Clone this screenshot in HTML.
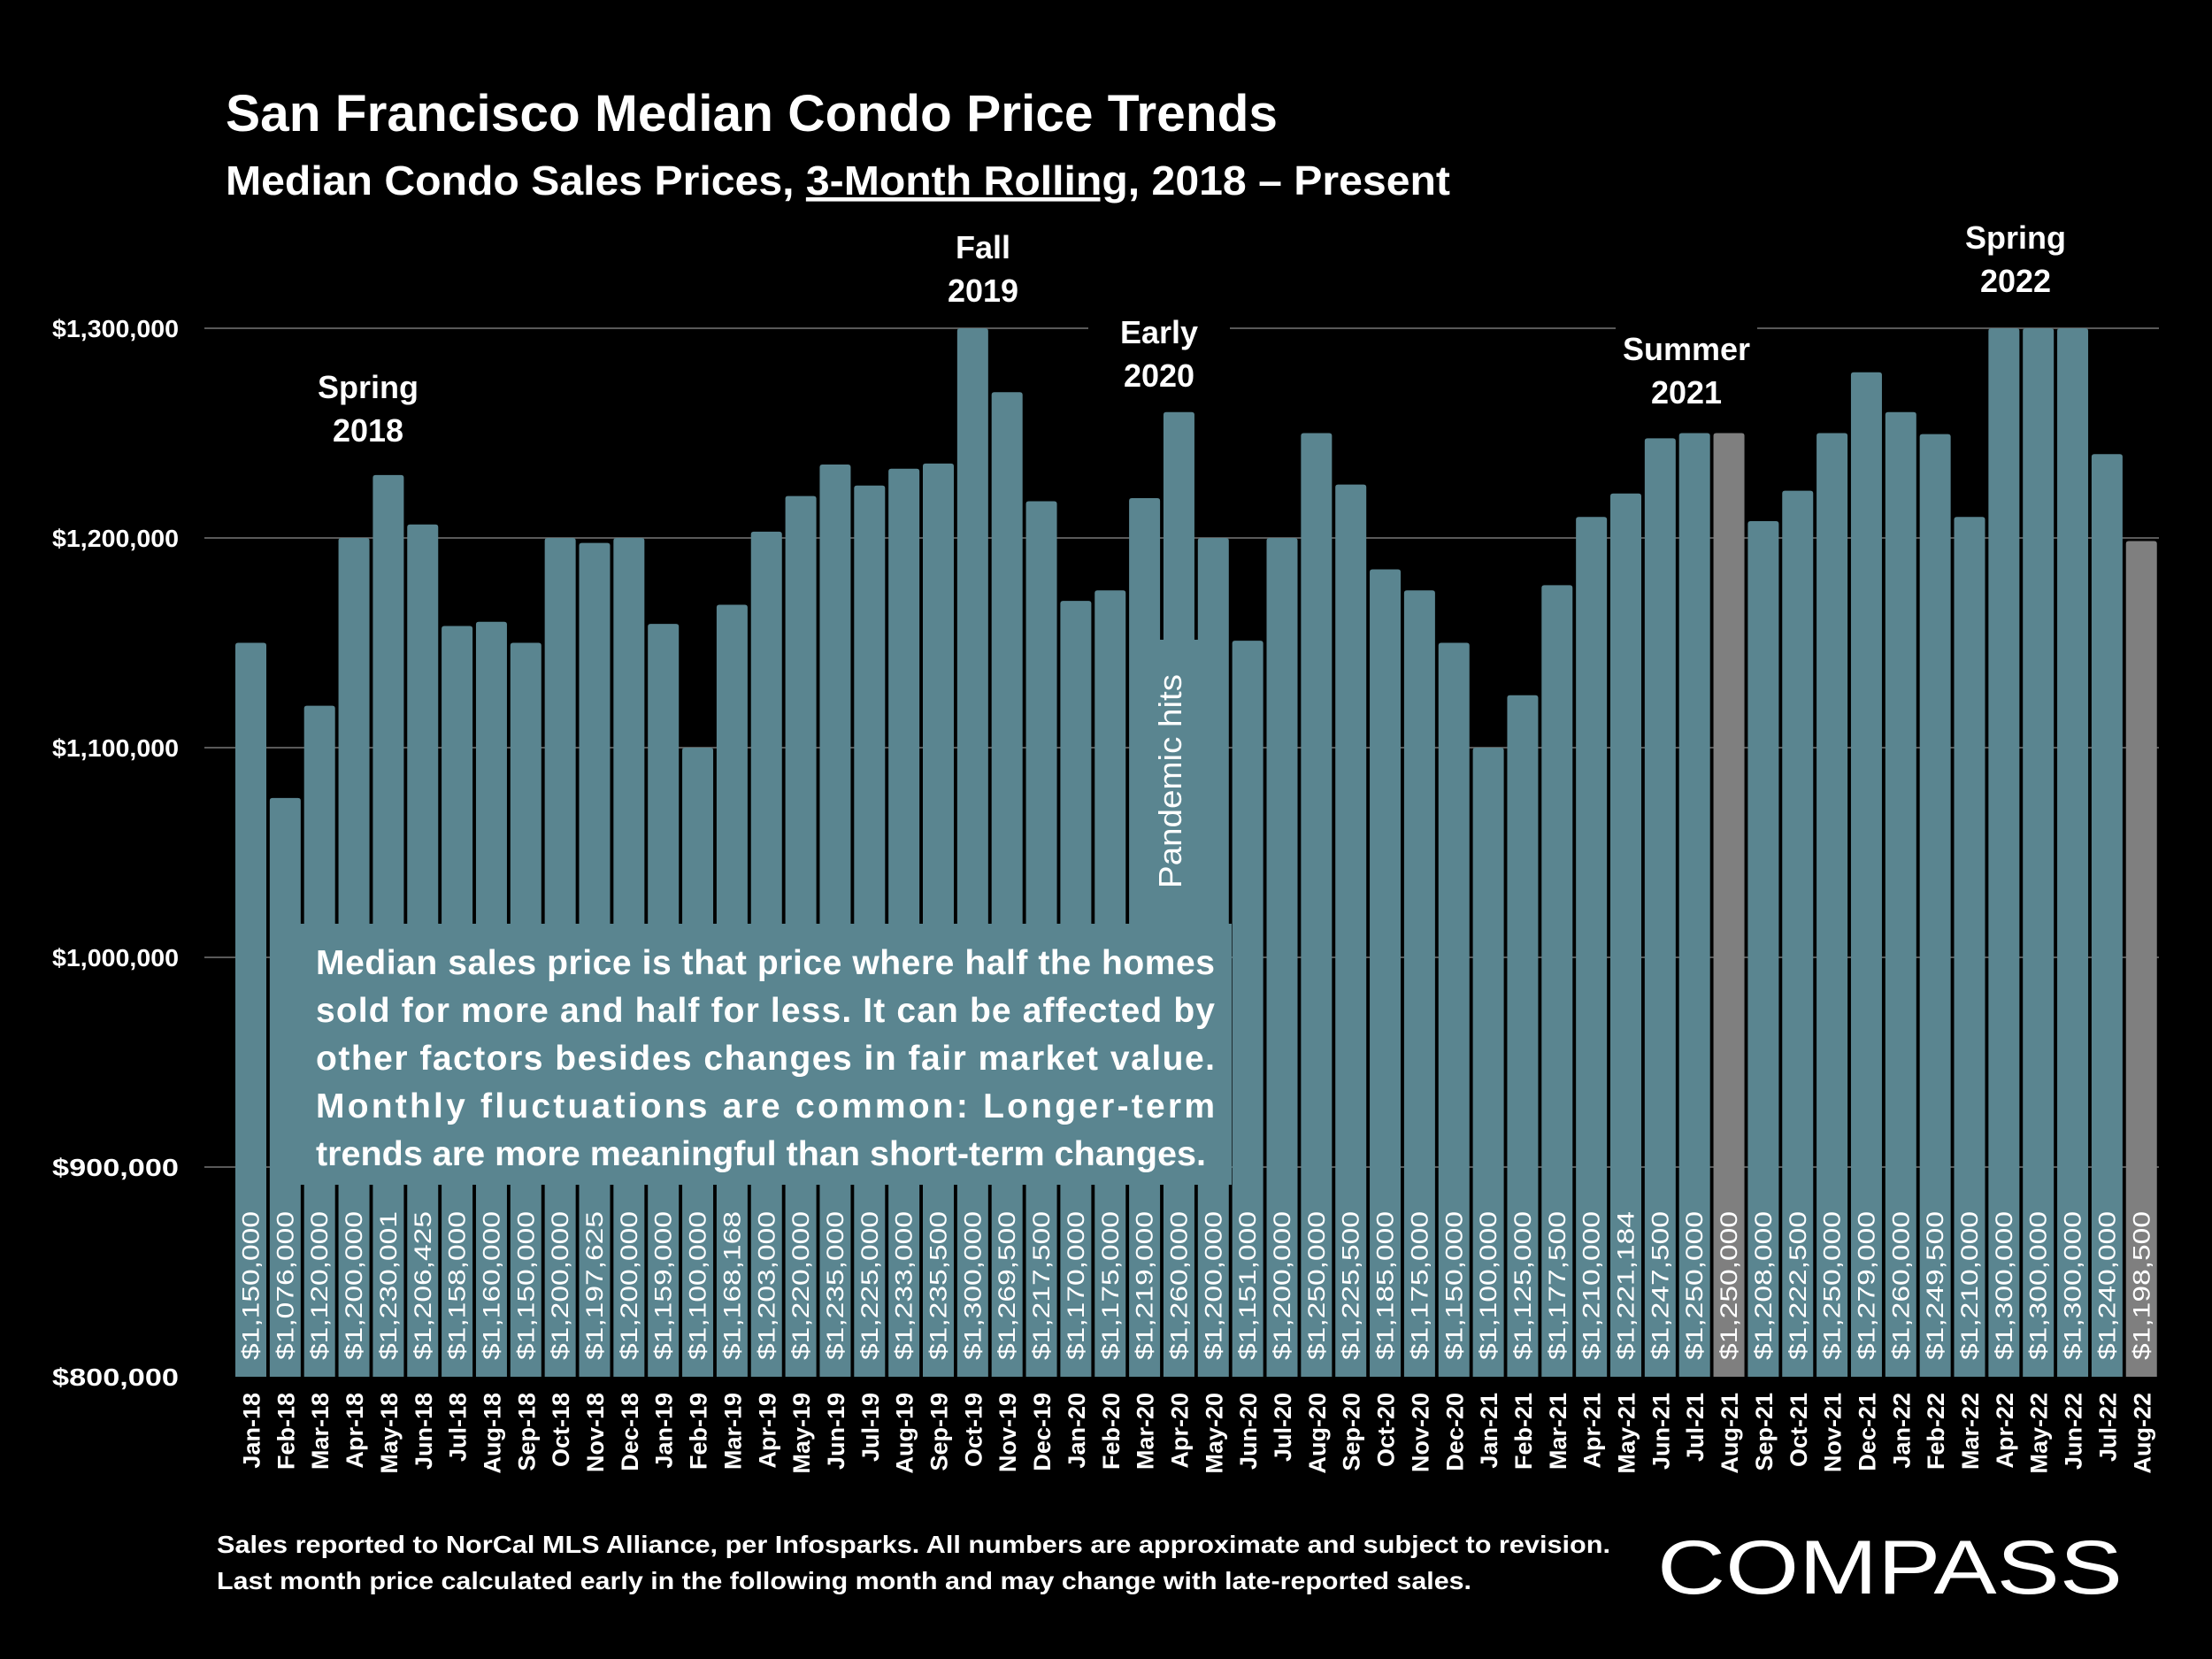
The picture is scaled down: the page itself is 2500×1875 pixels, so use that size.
<!DOCTYPE html>
<html><head><meta charset="utf-8">
<style>
html,body{margin:0;padding:0;background:#000;}
svg{display:block;font-family:"Liberation Sans",sans-serif;}
</style></head>
<body>
<svg id="chart" width="2500" height="1875" viewBox="0 0 2500 1875" xmlns="http://www.w3.org/2000/svg">
<rect width="2500" height="1875" fill="#000"/>
<text x="255" y="148" fill="#fff" font-size="58" font-weight="bold" textLength="1189" lengthAdjust="spacingAndGlyphs">San Francisco Median Condo Price Trends</text>
<text x="255" y="220" fill="#fff" font-size="46" font-weight="bold" textLength="1384" lengthAdjust="spacingAndGlyphs">Median Condo Sales Prices, <tspan text-decoration="underline">3-Month Rolling</tspan>, 2018 – Present</text>
<g id="grid"></g>
<g id="yaxis"></g>
<g id="bars"></g>
<g id="xaxis"></g>
<g id="notes"></g>
<g>
<rect x="1286" y="723" width="74" height="330" fill="#5a8590"/>
<text transform="translate(1335,1004) rotate(-90)" fill="#fff" font-size="36" textLength="242" lengthAdjust="spacingAndGlyphs">Pandemic hits</text>
<rect x="335" y="1044" width="1057" height="295" fill="#5a8590"/>
<g fill="#fff" font-size="39" font-weight="bold">
<text x="357" y="1101" textLength="1016" lengthAdjust="spacing">Median sales price is that price where half the homes</text>
<text x="357" y="1155" textLength="1016" lengthAdjust="spacing">sold for more and half for less. It can be affected by</text>
<text x="357" y="1209" textLength="1016" lengthAdjust="spacing">other factors besides changes in fair market value.</text>
<text x="357" y="1263" textLength="1016" lengthAdjust="spacing">Monthly fluctuations are common: Longer-term</text>
<text x="357" y="1317" textLength="1006" lengthAdjust="spacingAndGlyphs">trends are more meaningful than short-term changes.</text>
</g>
</g>
<g fill="#fff" font-size="28" font-weight="bold">
<text x="245" y="1755" textLength="1575" lengthAdjust="spacingAndGlyphs">Sales reported to NorCal MLS Alliance, per Infosparks. All numbers are approximate and subject to revision.</text>
<text x="245" y="1796" textLength="1418" lengthAdjust="spacingAndGlyphs">Last month price calculated early in the following month and may change with late-reported sales.</text>
</g>
<text x="1873" y="1801" fill="#fff" font-size="86" textLength="526" lengthAdjust="spacingAndGlyphs">COMPASS</text>
</svg>
<script>
const months = ["Jan-18","Feb-18","Mar-18","Apr-18","May-18","Jun-18","Jul-18","Aug-18","Sep-18","Oct-18","Nov-18","Dec-18","Jan-19","Feb-19","Mar-19","Apr-19","May-19","Jun-19","Jul-19","Aug-19","Sep-19","Oct-19","Nov-19","Dec-19","Jan-20","Feb-20","Mar-20","Apr-20","May-20","Jun-20","Jul-20","Aug-20","Sep-20","Oct-20","Nov-20","Dec-20","Jan-21","Feb-21","Mar-21","Apr-21","May-21","Jun-21","Jul-21","Aug-21","Sep-21","Oct-21","Nov-21","Dec-21","Jan-22","Feb-22","Mar-22","Apr-22","May-22","Jun-22","Jul-22","Aug-22"];
const prices = [1150000,1076000,1120000,1200000,1230001,1206425,1158000,1160000,1150000,1200000,1197625,1200000,1159000,1100000,1168168,1203000,1220000,1235000,1225000,1233000,1235500,1300000,1269500,1217500,1170000,1175000,1219000,1260000,1200000,1151000,1200000,1250000,1225500,1185000,1175000,1150000,1100000,1125000,1177500,1210000,1221184,1247500,1250000,1250000,1208000,1222500,1250000,1279000,1260000,1249500,1210000,1300000,1300000,1300000,1240000,1198500];
const highlighted = ["Aug-21","Aug-22"];
const yTicks = [800000,900000,1000000,1100000,1200000,1300000];
const notes = [["Spring","2018",416,437],["Fall","2019",1111,279],["Early","2020",1310,375],["Summer","2021",1906,394],["Spring","2022",2278,268]];

const NS = "http://www.w3.org/2000/svg";
const x0 = 266, step = 38.85, bw = 35, yBase = 1556, pxPer = 237/100000, yMin = 800000;
const y = v => yBase - (v - yMin) * pxPer;
const x = i => x0 + i * step;
const fmt = v => "$" + v.toLocaleString("en-US");
function mk(tag, attrs, parent, txt){const e=document.createElementNS(NS,tag);for(const k in attrs)e.setAttribute(k,attrs[k]);if(txt!==undefined)e.textContent=txt;parent.appendChild(e);return e;}

const grid = document.getElementById("grid"), yaxis = document.getElementById("yaxis");
yTicks.forEach(t => {
  if (t > yMin) {
    const l = mk("line",{x1:231,x2:2440,y1:y(t),y2:y(t),stroke:"#595959","stroke-width":2},grid);
    
    
  }
  const tx = mk("text",{x:202,y:y(t)+10,"text-anchor":"end",fill:"#fff","font-size":28,"font-weight":"bold",textLength:143,lengthAdjust:"spacingAndGlyphs"},yaxis,fmt(t));
  
  
});

const bars = document.getElementById("bars"), xaxis = document.getElementById("xaxis");
prices.forEach((v,i) => {
  const top = y(v);
  const r = mk("path",{d:`M${x(i)},${yBase} V${top+3} Q${x(i)},${top} ${x(i)+3},${top} H${x(i)+bw-3} Q${x(i)+bw},${top} ${x(i)+bw},${top+3} V${yBase} Z`,fill:highlighted.includes(months[i])?"#7f7f7f":"#5a8590"},bars);
  
  
  const cx = x(i) + bw/2;
  const vl = mk("text",{transform:`translate(${cx+9},${yBase-19}) rotate(-90)`,fill:"#fff","font-size":27,textLength:168,lengthAdjust:"spacingAndGlyphs"},bars,fmt(v));
  
  
  const xl = mk("text",{transform:`translate(${cx+10},1574) rotate(-90)`,"text-anchor":"end",fill:"#fff","font-size":27,"font-weight":"bold"},xaxis,months[i]);
  
  
});

const ng = document.getElementById("notes");
notes.forEach(n => {
  const bg = mk("rect",{x:n[2]-80,y:n[3]-36,width:160,height:96,fill:"#000"},ng);
  
  
  const t1 = mk("text",{x:n[2],y:n[3]+13,"text-anchor":"middle",fill:"#fff","font-size":36,"font-weight":"bold"},ng,n[0]);
  
  
  const t2 = mk("text",{x:n[2],y:n[3]+62,"text-anchor":"middle",fill:"#fff","font-size":36,"font-weight":"bold"},ng,n[1]);
  
  
});
</script>
</body></html>
